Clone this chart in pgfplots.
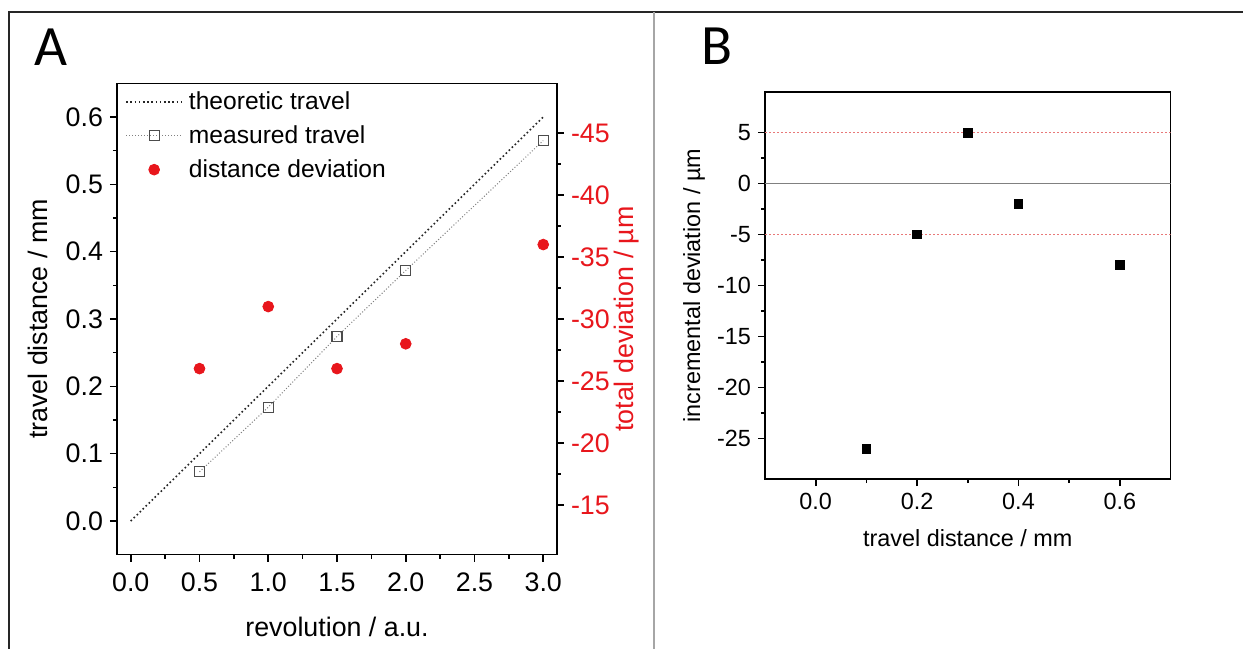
\documentclass[border=0pt]{standalone}
\usepackage{pgfplots}
\pgfplotsset{compat=1.18}
\usepackage{fontspec}
\setmainfont{Liberation Sans}
\newfontfamily\calib{Carlito}
\definecolor{dred}{RGB}{232,22,28}
\definecolor{lred}{RGB}{232,120,120}
\newcommand\fA{\fontsize{13.4bp}{16bp}\selectfont}
\newcommand\fL{\fontsize{12.3bp}{15bp}\selectfont}
\newcommand\fB{\fontsize{11.7bp}{14bp}\selectfont}

\pgfplotsset{
  base/.style={
    scale only axis,
    axis line style={line width=0.8bp, -},
    tick style={line width=0.8bp, black},
    major tick length=3.5bp, minor tick length=2bp,
    tick align=outside,
    /pgf/number format/assume math mode=true,
  },
  onedec/.style={/pgf/number format/fixed, /pgf/number format/fixed zerofill,
    /pgf/number format/precision=1},
}

\begin{document}
\begin{tikzpicture}
\useasboundingbox (0,0) rectangle (621.5bp,324.5bp);
\fill[white] (0,0) rectangle (621.5bp,324.5bp);

% frame
\draw[line width=1bp, black!85] (4.5bp,0) -- (4.5bp,318.5bp) -- (621.5bp,318.5bp);
\draw[line width=1bp, gray!70] (327bp,0) -- (327bp,318.5bp);
\node[font=\calib\fontsize{28.5bp}{30bp}\selectfont] at (25.5bp,301bp) {A};
\node[font=\calib\fontsize{28.5bp}{30bp}\selectfont] at (358.5bp,301.5bp) {B};

% panel A, left axis
\begin{axis}[base,
  at={(58.5bp,47.15bp)}, anchor=south west,
  width=220bp, height=235.7bp,
  xmin=-0.1, xmax=3.1, ymin=-0.05, ymax=0.65,
  xtick={0,0.5,...,3}, minor x tick num=1,
  ytick={0,0.1,...,0.6}, minor y tick num=1,
  xtick pos=bottom, ytick pos=left,
  xticklabel style={yshift=-2bp, onedec}, yticklabel style={onedec},
  ticklabel style={font=\fA},
  xlabel={revolution / a.u.}, ylabel={travel distance / mm},
  label style={font=\fA},
  xlabel style={at={(axis description cs:0.5,-0.1527)}, anchor=center},
  ylabel style={at={(axis description cs:-0.1795,0.5)}, anchor=center},
  legend style={draw=none, fill=none, font=\fL, at={(axis description cs:0.009,1)},
    anchor=north west, inner xsep=2bp, inner ysep=2bp, row sep=2.5bp,
    /tikz/every odd column/.append style={column sep=1bp}},
  legend cell align=left,
  legend image code/.code={\draw[mark repeat=2,mark phase=2,#1] plot coordinates {(0bp,0bp) (14bp,0bp) (28bp,0bp)};},
]
\addplot[black!85, dash pattern=on 0.8bp off 1.3bp, line width=0.8bp] coordinates {(0,0) (3,0.6)};
\addlegendentry{theoretic travel}
\addplot[gray, dash pattern=on 0.5bp off 1bp, line width=0.5bp, mark=square, mark size=2.5bp,
  mark options={solid, draw=black!70, fill=white, line width=0.6bp}] coordinates {
  (0.5,0.073) (1.0,0.169) (1.5,0.274) (2.0,0.372) (3.0,0.565)};
\addlegendentry{measured travel}
\addlegendimage{only marks, mark=*, mark size=2.7bp, color=dred}
\addlegendentry{distance deviation}
\end{axis}

% panel A, right axis
\begin{axis}[base,
  at={(58.5bp,47.15bp)}, anchor=south west,
  width=220bp, height=235.7bp,
  xmin=-0.1, xmax=3.1, ymin=-49, ymax=-11, y dir=reverse,
  axis x line=none, axis y line*=right,
  ytick={-45,-40,...,-15}, minor y tick num=1,
  yticklabel style={font=\fA, text=dred},
  ylabel={total deviation / µm},
  ylabel style={font=\fA, text=dred, at={(axis description cs:1.159,0.5)}, anchor=center},
]
\addplot[only marks, mark=*, mark size=2.7bp, color=dred] coordinates {
  (0.5,-26) (1.0,-31) (1.5,-26) (2.0,-28) (3.0,-36)};
\end{axis}

% panel B
\begin{axis}[base,
  at={(382.5bp,84.9bp)}, anchor=south west,
  width=202.8bp, height=193.65bp,
  xmin=-0.1, xmax=0.7, ymin=-29, ymax=9,
  xtick={0,0.2,0.4,0.6}, minor x tick num=1,
  ytick={-25,-20,...,5}, minor y tick num=1,
  xtick pos=bottom, ytick pos=left,
  xticklabel style={onedec},
  ticklabel style={font=\fB},
  xlabel={travel distance / mm}, ylabel={incremental deviation / µm},
  label style={font=\fB},
  xlabel style={at={(axis description cs:0.5,-0.152)}, anchor=center},
  ylabel style={at={(axis description cs:-0.175,0.5)}, anchor=center},
]
\addplot[gray, line width=0.6bp] coordinates {(-0.1,0) (0.7,0)};
\addplot[lred, dash pattern=on 0.8bp off 1.2bp, line width=0.5bp] coordinates {(-0.1,5) (0.7,5)};
\addplot[lred, dash pattern=on 0.8bp off 1.2bp, line width=0.5bp] coordinates {(-0.1,-5) (0.7,-5)};
\addplot[only marks, mark=square*, mark size=2.15bp, black] coordinates {
  (0.1,-26) (0.2,-5) (0.3,5) (0.4,-2) (0.6,-8)};
\end{axis}
\end{tikzpicture}
\end{document}
